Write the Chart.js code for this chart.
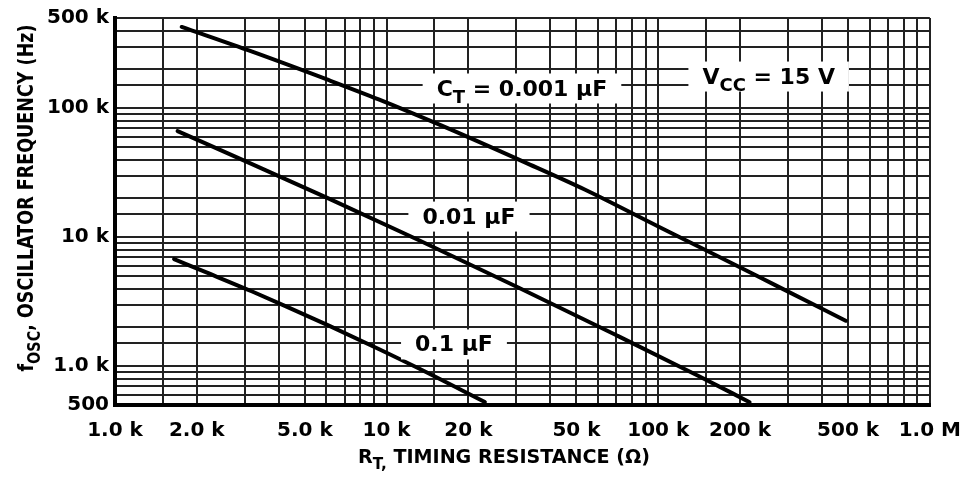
<!DOCTYPE html>
<html>
<head>
<meta charset="utf-8">
<script src="https://cdn.jsdelivr.net/npm/chart.js@4.4.1/dist/chart.umd.min.js"></script>
<style>
html, body { margin: 0; padding: 0; background: #fff; }
#wrap { width: 975px; height: 482px; }
</style>
</head>
<body>
<div id="wrap"><canvas id="myChart" width="975" height="482"></canvas></div>
<script>
// curves: R in ohms, f in Hz
var rA = [1760, 3200, 6030, 9350, 15800, 32300, 53600, 100000, 155000, 273000, 490000]
var fA = [426000, 274000, 167000, 117000, 73800, 38000, 23400, 12100, 7650, 4190, 2250]
var rB = [1700, 3120, 6130, 13100, 30400, 70800, 139000, 217000]
var fB = [66400, 37700, 19900, 9510, 4090, 1720, 851, 526]
var rC = [1650, 2170, 3200, 4200, 6130, 9350, 13100, 23000]
var fC = [6760, 5330, 3790, 2950, 2060, 1360, 963, 527]

// tick labels
var xTickVals = [1000, 2000, 5000, 10000, 20000, 50000, 100000, 200000, 500000, 1000000]
var xTickText = ['1.0 k', '2.0 k', '5.0 k', '10 k', '20 k', '50 k', '100 k', '200 k', '500 k', '1.0 M']
var yTickVals = [500, 1000, 10000, 100000, 500000]
var yTickText = ['500', '1.0 k', '10 k', '100 k', '500 k']
var gridSteps = [1, 1.5, 2, 3, 4, 5, 6, 7, 8, 9]

// curve labels, anchored in data space
var noteText = [
  [['C', 0], ['T', 1], [' = 0.001 \u00b5F', 0]],
  [['V', 0], ['CC', 1], [' = 15 V', 0]],
  [['0.01 \u00b5F', 0]],
  [['0.1 \u00b5F', 0]]
]
var noteR = [31500, 255000, 20100, 17700]
var noteF = [144600, 179000, 14700, 1500]

var FONT = '"DejaVu Sans", sans-serif'

function gridTicks(min, max) {
  var out = []
  for (var e = 2; e <= 6; e++) {
    gridSteps.forEach(function (m) {
      var v = Math.round(m * Math.pow(10, e))
      if (v >= min && v <= max) out.push(v)
    })
  }
  return out
}

function pts(r, f) {
  return r.map(function (v, i) { return { x: v, y: f[i] } })
}

function fontFor(p, size) {
  return 'bold ' + (p[1] ? Math.round(size * 0.8) : size) + 'px ' + FONT
}

function partsWidth(ctx, parts, size) {
  var w = 0
  parts.forEach(function (p) {
    ctx.font = fontFor(p, size)
    w += ctx.measureText(p[0]).width
  })
  return w
}

// draws text with subscripts, centred on cx, baseline at by
function drawParts(ctx, parts, cx, by, size, targetW) {
  var w = partsWidth(ctx, parts, size)
  var sx = targetW ? targetW / w : 1
  ctx.save()
  ctx.translate(cx, by)
  ctx.scale(sx, 1)
  ctx.fillStyle = '#000'
  ctx.textAlign = 'left'
  ctx.textBaseline = 'alphabetic'
  var x = -w / 2
  parts.forEach(function (p) {
    ctx.font = fontFor(p, size)
    ctx.fillText(p[0], x, p[1] ? size * 0.32 : 0)
    x += ctx.measureText(p[0]).width
  })
  ctx.restore()
}

var textPlugin = {
  id: 'texts',
  afterDatasetsDraw: function (chart) {
    var ctx = chart.ctx
    var xs = chart.scales.x, ys = chart.scales.y
    var size = 22
    noteText.forEach(function (parts, i) {
      var px = xs.getPixelForValue(noteR[i])
      var py = ys.getPixelForValue(noteF[i])
      var w = partsWidth(ctx, parts, size)
      ctx.fillStyle = '#fff'
      ctx.fillRect(px - w / 2 - 14, py - 14, w + 28, 30)
      drawParts(ctx, parts, px, py + 8, size)
    })
  },
  afterDraw: function (chart) {
    var ctx = chart.ctx
    drawParts(ctx, [['R', 0], ['T,', 1], [' TIMING RESISTANCE (\u03a9)', 0]], 504, 463, 20, 292)
    ctx.save()
    ctx.translate(33, 198)
    ctx.rotate(-Math.PI / 2)
    drawParts(ctx, [['f', 0], ['OSC', 1], [', OSCILLATOR FREQUENCY (Hz)', 0]], 0, 0, 22, 347)
    ctx.restore()
  }
}

var lineStyle = {
  borderColor: '#000',
  borderWidth: 4,
  pointRadius: 0,
  cubicInterpolationMode: 'monotone',
  fill: false,
  borderCapStyle: 'round'
}

var ctx = document.getElementById('myChart')

var myChart = new Chart(ctx, {
  type: 'line',
  data: {
    datasets: [
      Object.assign({ label: '0.001 uF', data: pts(rA, fA) }, lineStyle),
      Object.assign({ label: '0.01 uF', data: pts(rB, fB) }, lineStyle),
      Object.assign({ label: '0.1 uF', data: pts(rC, fC) }, lineStyle)
    ]
  },
  options: {
    responsive: false,
    animation: false,
    events: [],
    layout: { padding: { left: 0, top: 15, right: 41, bottom: 0 } },
    plugins: {
      legend: { display: false },
      tooltip: { enabled: false },
      title: { display: false }
    },
    scales: {
      x: {
        type: 'logarithmic',
        min: 1000,
        max: 1000000,
        afterBuildTicks: function (scale) {
          scale.ticks = gridTicks(1000, 1000000).map(function (v) { return { value: v } })
        },
        afterFit: function (scale) { scale.height = 77 },
        grid: { color: '#222', lineWidth: 2, drawTicks: false },
        border: { color: '#000', width: 4 },
        ticks: {
          autoSkip: false,
          maxRotation: 0,
          padding: 14,
          color: '#000',
          font: { family: 'DejaVu Sans', size: 20, weight: 'bold' },
          callback: function (v) {
            var i = xTickVals.indexOf(Math.round(v))
            return i >= 0 ? xTickText[i] : ''
          }
        }
      },
      y: {
        type: 'logarithmic',
        min: 500,
        max: 500000,
        afterBuildTicks: function (scale) {
          scale.ticks = gridTicks(500, 500000).map(function (v) { return { value: v } })
        },
        afterFit: function (scale) { scale.width = 115 },
        grid: { color: '#222', lineWidth: 2, drawTicks: false },
        border: { color: '#000', width: 4 },
        ticks: {
          autoSkip: false,
          padding: 6,
          color: '#000',
          font: { family: 'DejaVu Sans', size: 20, weight: 'bold' },
          callback: function (v) {
            var i = yTickVals.indexOf(Math.round(v))
            return i >= 0 ? yTickText[i] : ''
          }
        }
      }
    }
  },
  plugins: [textPlugin]
})
</script>
</body>
</html>
